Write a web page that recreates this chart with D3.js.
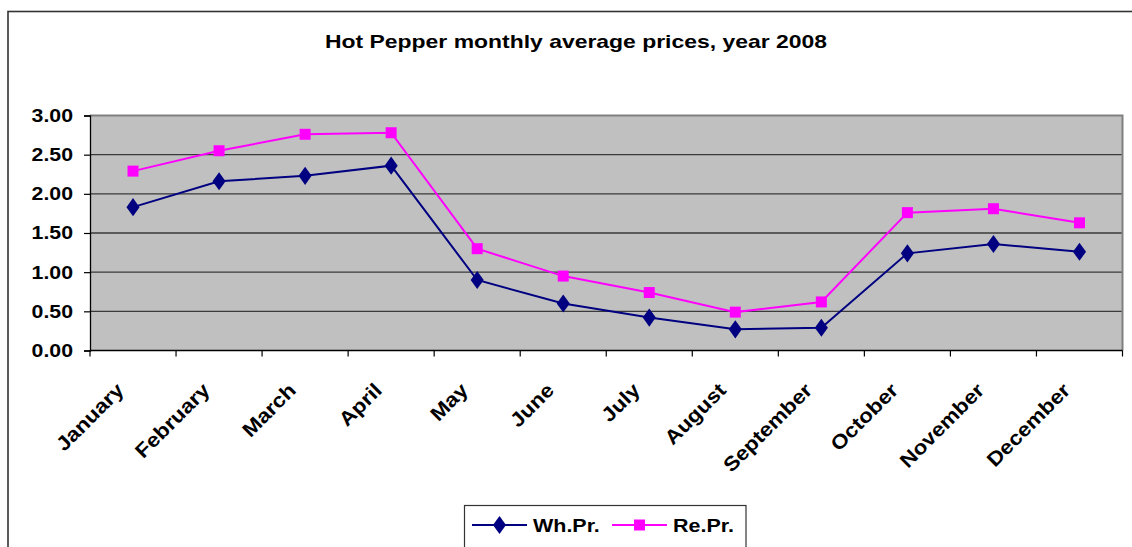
<!DOCTYPE html>
<html><head><meta charset="utf-8">
<script src="https://cdn.jsdelivr.net/npm/d3@7"></script>
<style>
html,body{margin:0;padding:0;background:#fff;}
text{font-family:"Liberation Sans",Arial,sans-serif;font-weight:bold;fill:#000;}
</style></head>
<body>
<svg id="chart" width="1132" height="547"></svg>
<script>
const months = ["January","February","March","April","May","June","July","August","September","October","November","December"];
const whPrices = [1.83,2.16,2.23,2.36,0.90,0.60,0.42,0.27,0.29,1.24,1.36,1.26];
const rePrices = [2.29,2.55,2.76,2.78,1.30,0.95,0.74,0.49,0.62,1.76,1.81,1.63];
const yTicks = [0,0.5,1,1.5,2,2.5,3];
const seriesNames = ["Wh.Pr.","Re.Pr."];
const titleText = "Hot Pepper monthly average prices, year 2008";

const svg = d3.select("#chart");
function stretch(sx){
  return function(sel){
    sel.each(function(){
      const l = this.getComputedTextLength();
      d3.select(this).attr("textLength", l*sx).attr("lengthAdjust","spacingAndGlyphs");
    });
  };
}

// outer border
svg.append("rect").attr("x",8).attr("y",11.5).attr("width",1140).attr("height",560)
  .attr("fill","none").attr("stroke","#333").attr("stroke-width",1.6);

const L=90, R=1122.5, T=115.5, B=350.5;
const x = d3.scaleBand().domain(months).range([L,R]);
const y = d3.scaleLinear().domain([0,3]).range([B,T]);

// plot bg
svg.append("rect").attr("x",L).attr("y",T).attr("width",R-L).attr("height",B-T).attr("fill","#c0c0c0");

// gridlines
svg.append("g").selectAll("line").data(yTicks.filter(d=>d>0 && d<3)).join("line")
  .attr("x1",L).attr("x2",R).attr("y1",d=>y(d)).attr("y2",d=>y(d))
  .attr("stroke","#3a3a3a").attr("stroke-width",1.4);

// plot border top/right
svg.append("path").attr("d",`M${L},${T}H${R}V${B}`).attr("fill","none").attr("stroke","#808080").attr("stroke-width",2);

// y axis
const yAxis = svg.append("g").attr("transform",`translate(${L},0)`)
  .call(d3.axisLeft(y).tickValues(yTicks).tickFormat(d3.format(".2f")).tickSize(6).tickPadding(11));
yAxis.select(".domain").attr("stroke","#000").attr("stroke-width",1.3);
yAxis.selectAll(".tick line").attr("stroke","#000").attr("stroke-width",1.2);
yAxis.selectAll("text").attr("font-size",18.5).attr("font-family","Liberation Sans, Arial, sans-serif").attr("font-weight","bold").attr("fill","#000").call(stretch(1.15));

// x axis
const xg = svg.append("g").attr("transform",`translate(0,${B})`);
xg.append("line").attr("x1",L).attr("x2",R).attr("stroke","#000").attr("stroke-width",1.3);
const bounds = months.map(m=>x(m)).concat([R]);
xg.selectAll("line.t").data(bounds).join("line").attr("class","t")
  .attr("x1",d=>d).attr("x2",d=>d).attr("y1",0).attr("y2",6).attr("stroke","#000").attr("stroke-width",1.2);
xg.selectAll("text").data(months).join("text")
  .attr("transform",d=>`translate(${x(d)+x.bandwidth()/2-8},${41}) rotate(-45)`)
  .attr("text-anchor","end").attr("font-size",20).text(d=>d).call(stretch(1.12));

// lines
const line = d3.line().x((d,i)=>x(months[i])+x.bandwidth()/2).y(d=>y(d));
svg.append("path").datum(rePrices).attr("d",line).attr("fill","none").attr("stroke","#ff00ff").attr("stroke-width",2);
svg.append("path").datum(whPrices).attr("d",line).attr("fill","none").attr("stroke","#000080").attr("stroke-width",2);

// markers
const sq = d3.symbol().type(d3.symbolSquare).size(121);
const dm = d3.symbol().type(d3.symbolDiamond).size(95);
svg.append("g").selectAll("path").data(rePrices).join("path")
  .attr("d",sq).attr("transform",(d,i)=>`translate(${x(months[i])+x.bandwidth()/2},${y(d)})`).attr("fill","#ff00ff");
svg.append("g").selectAll("path").data(whPrices).join("path")
  .attr("d",dm).attr("transform",(d,i)=>`translate(${x(months[i])+x.bandwidth()/2},${y(d)}) scale(1.25,1)`).attr("fill","#000080");

// title
svg.append("text").attr("x",576).attr("y",48).attr("text-anchor","middle").attr("font-size",18.5)
  .attr("textLength",502).attr("lengthAdjust","spacingAndGlyphs").text(titleText);

// legend
const lg = svg.append("g");
lg.append("rect").attr("x",464.5).attr("y",505.5).attr("width",281.5).attr("height",60).attr("fill","#fff").attr("stroke","#333").attr("stroke-width",1.2);
const ly = 525;
lg.append("line").attr("x1",472).attr("x2",527).attr("y1",ly).attr("y2",ly).attr("stroke","#000080").attr("stroke-width",2);
lg.append("path").attr("d",dm).attr("transform",`translate(499.5,${ly}) scale(1.25,1)`).attr("fill","#000080");
lg.append("text").attr("x",533).attr("y",ly+7).attr("font-size",19).text(seriesNames[0]).call(stretch(1.13));
lg.append("line").attr("x1",612).attr("x2",667).attr("y1",ly).attr("y2",ly).attr("stroke","#ff00ff").attr("stroke-width",2);
lg.append("path").attr("d",sq).attr("transform",`translate(639.5,${ly})`).attr("fill","#ff00ff");
lg.append("text").attr("x",673).attr("y",ly+7).attr("font-size",19).text(seriesNames[1]).call(stretch(1.13));
</script>
</body></html>
